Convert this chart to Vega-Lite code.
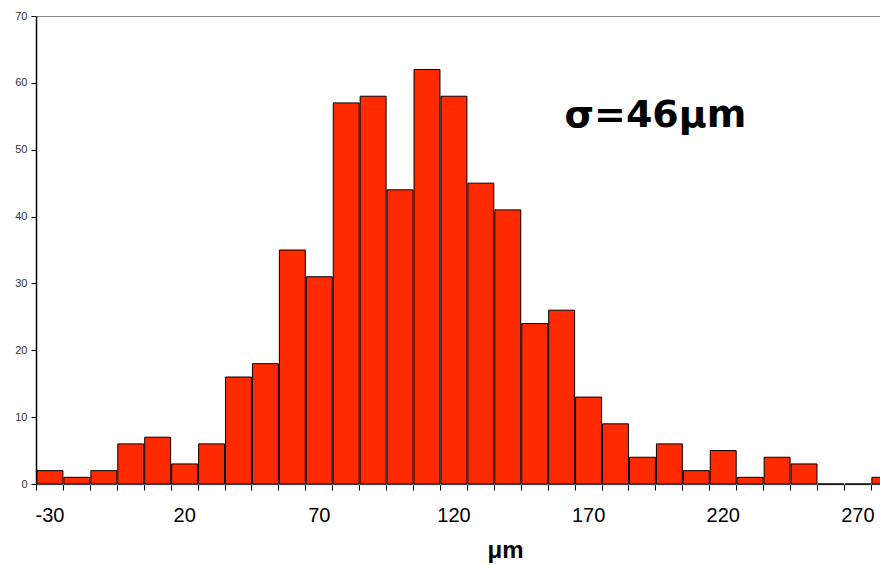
{
  "$schema": "https://vega.github.io/schema/vega-lite/v6.json",
  "autosize": {"type": "none"},
  "width": 938,
  "height": 468,
  "padding": {"left": 36, "top": 16, "right": 0, "bottom": 81},
  "background": "white",
  "config": {
    "view": {"stroke": "#888888", "strokeWidth": 1},
    "font": "Liberation Sans"
  },
  "title": {
    "text": "Histogram",
    "fontSize": 20,
    "fontWeight": "bold",
    "font": "Liberation Sans",
    "color": "black",
    "baseline": "alphabetic",
    "offset": 18,
    "dx": -34
  },
  "datasets": {
    "bins": [
      {"lo": -35, "hi": -25, "count": 2},
      {"lo": -25, "hi": -15, "count": 1},
      {"lo": -15, "hi": -5, "count": 2},
      {"lo": -5, "hi": 5, "count": 6},
      {"lo": 5, "hi": 15, "count": 7},
      {"lo": 15, "hi": 25, "count": 3},
      {"lo": 25, "hi": 35, "count": 6},
      {"lo": 35, "hi": 45, "count": 16},
      {"lo": 45, "hi": 55, "count": 18},
      {"lo": 55, "hi": 65, "count": 35},
      {"lo": 65, "hi": 75, "count": 31},
      {"lo": 75, "hi": 85, "count": 57},
      {"lo": 85, "hi": 95, "count": 58},
      {"lo": 95, "hi": 105, "count": 44},
      {"lo": 105, "hi": 115, "count": 62},
      {"lo": 115, "hi": 125, "count": 58},
      {"lo": 125, "hi": 135, "count": 45},
      {"lo": 135, "hi": 145, "count": 41},
      {"lo": 145, "hi": 155, "count": 24},
      {"lo": 155, "hi": 165, "count": 26},
      {"lo": 165, "hi": 175, "count": 13},
      {"lo": 175, "hi": 185, "count": 9},
      {"lo": 185, "hi": 195, "count": 4},
      {"lo": 195, "hi": 205, "count": 6},
      {"lo": 205, "hi": 215, "count": 2},
      {"lo": 215, "hi": 225, "count": 5},
      {"lo": 225, "hi": 235, "count": 1},
      {"lo": 235, "hi": 245, "count": 4},
      {"lo": 245, "hi": 255, "count": 3},
      {"lo": 255, "hi": 265, "count": 0},
      {"lo": 265, "hi": 275, "count": 0},
      {"lo": 275, "hi": 285, "count": 1}
    ],
    "note": [
      {"label": "σ=46μm", "x": 195, "y": 55}
    ]
  },
  "layer": [
    {
      "data": {"name": "bins"},
      "mark": {"type": "bar", "fill": "#FF2A00", "stroke": "black", "strokeWidth": 1},
      "encoding": {
        "x": {
          "field": "lo",
          "type": "quantitative",
          "bin": "binned",
          "scale": {"domain": [-35, 313.3], "nice": false, "zero": false},
          "axis": {
            "title": "μm",
            "titleFontSize": 24,
            "titleFontWeight": "bold",
            "titleColor": "black",
            "titlePadding": 13,
            "values": [-35, -25, -15, -5, 5, 15, 25, 35, 45, 55, 65, 75, 85, 95, 105, 115, 125, 135, 145, 155, 165, 175, 185, 195, 205, 215, 225, 235, 245, 255, 265, 275, 285, 295, 305],
            "tickCount": 100,
            "labelExpr": "(datum.value + 35) % 50 == 0 ? toString(datum.value + 5) : ''",
            "labelOffset": 13.5,
            "labelFontSize": 20,
            "labelColor": "black",
            "labelPadding": 15,
            "labelOverlap": false,
            "labelFlush": false,
            "labelBound": false,
            "tickColor": "black",
            "tickSize": 6,
            "domainColor": "#888888",
            "domainWidth": 1.5,
            "grid": false
          }
        },
        "x2": {"field": "hi"},
        "y": {
          "field": "count",
          "type": "quantitative",
          "scale": {"domain": [0, 70], "nice": false},
          "axis": {
            "title": null,
            "values": [0, 10, 20, 30, 40, 50, 60, 70],
            "labelFontSize": 11,
            "labelColor": "#333333",
            "labelPadding": 4,
            "tickColor": "black",
            "tickSize": 5,
            "domainColor": "black",
            "domainWidth": 1.5,
            "grid": false
          }
        }
      }
    },
    {
      "data": {"name": "note"},
      "mark": {"type": "text", "fontSize": 38, "fontWeight": "bold", "font": "DejaVu Sans", "color": "black", "align": "center", "baseline": "middle"},
      "encoding": {
        "x": {"field": "x", "type": "quantitative"},
        "y": {"field": "y", "type": "quantitative"},
        "text": {"field": "label"}
      }
    }
  ]
}
